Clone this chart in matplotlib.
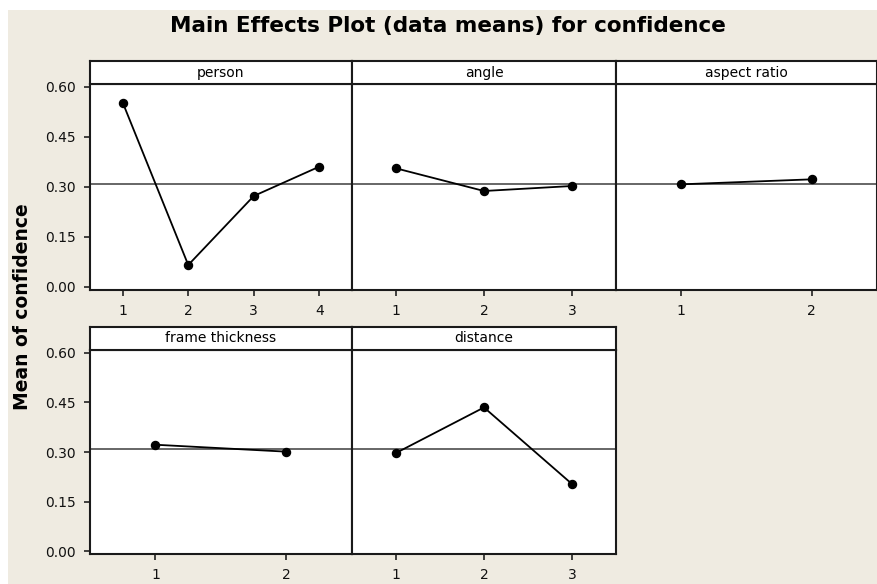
import matplotlib
matplotlib.use("Agg")
import matplotlib.pyplot as plt
from matplotlib.patches import Rectangle

# data means
factors = ["person", "angle", "aspect ratio", "frame thickness", "distance"]
person_means = [0.553, 0.066, 0.273, 0.361]
angle_means = [0.356, 0.288, 0.303]
aspect_means = [0.308, 0.323]
frame_means = [0.322, 0.301]
distance_means = [0.297, 0.435, 0.203]
all_means = [person_means, angle_means, aspect_means, frame_means, distance_means]
grand_mean = 0.31
y_ticks = [0.00, 0.15, 0.30, 0.45, 0.60]
y_tick_labels = ["0.00", "0.15", "0.30", "0.45", "0.60"]

W, H = 878, 584
BG = "#efebe1"

plt.rcParams["font.family"] = ["DejaVu Sans"]

fig = plt.figure(figsize=(W / 100, H / 100), dpi=100)
fig.patch.set_facecolor("white")
fig.patches.append(Rectangle((8 / W, 0), 869 / W, 1 - 10 / H, transform=fig.transFigure,
                             facecolor=BG, edgecolor="none", zorder=-10))


def px_axes(x0, y0, x1, y1):
    # pixel box (top-left origin) -> figure axes
    return fig.add_axes([x0 / W, 1 - y1 / H, (x1 - x0) / W, (y1 - y0) / H])


col_x = [90, 352, 616, 877]
rows = [(61, 84, 290), (327, 350, 554)]

for i, (name, means) in enumerate(zip(factors, all_means)):
    r, c = divmod(i, 3)
    top, strip_bot, bot = rows[r]
    x0, x1 = col_x[c], col_x[c + 1]

    ax = px_axes(x0, strip_bot, x1, bot)
    ax.set_facecolor("white")
    levels = list(range(1, len(means) + 1))
    ax.axhline(grand_mean, color="#5a5a5a", lw=1.3, zorder=1)
    ax.plot(levels, means, color="black", lw=1.3, marker="o", markersize=5.8, zorder=3)
    ax.set_xlim(0.5, len(means) + 0.5)
    ax.set_ylim(-0.009, 0.609)
    ax.set_xticks(levels)
    ax.set_xticklabels([str(v) for v in levels])
    ax.set_yticks(y_ticks)
    if c == 0:
        ax.set_yticklabels(y_tick_labels)
    else:
        ax.tick_params(axis="y", left=False, labelleft=False)
    ax.tick_params(direction="out", length=4, width=1.1, pad=6, labelsize=10, colors="#111111")
    for s in ax.spines.values():
        s.set_linewidth(1.5)
        s.set_color("#1a1a1a")

    sax = px_axes(x0, top, x1, strip_bot)
    sax.set_facecolor("white")
    sax.set_xticks([])
    sax.set_yticks([])
    for s in sax.spines.values():
        s.set_linewidth(1.5)
        s.set_color("#1a1a1a")
    sax.text(0.5, 0.5, name, ha="center", va="center", fontsize=10, transform=sax.transAxes)

fig.text(448 / W, 1 - 26 / H, "Main Effects Plot (data means) for confidence",
         ha="center", va="center", fontsize=15.5, fontweight="bold")
fig.text(23 / W, 1 - 307 / H, "Mean of confidence", ha="center", va="center",
         rotation=90, fontsize=13.5, fontweight="bold")

fig.savefig("out.png", dpi=100, facecolor=fig.get_facecolor())
